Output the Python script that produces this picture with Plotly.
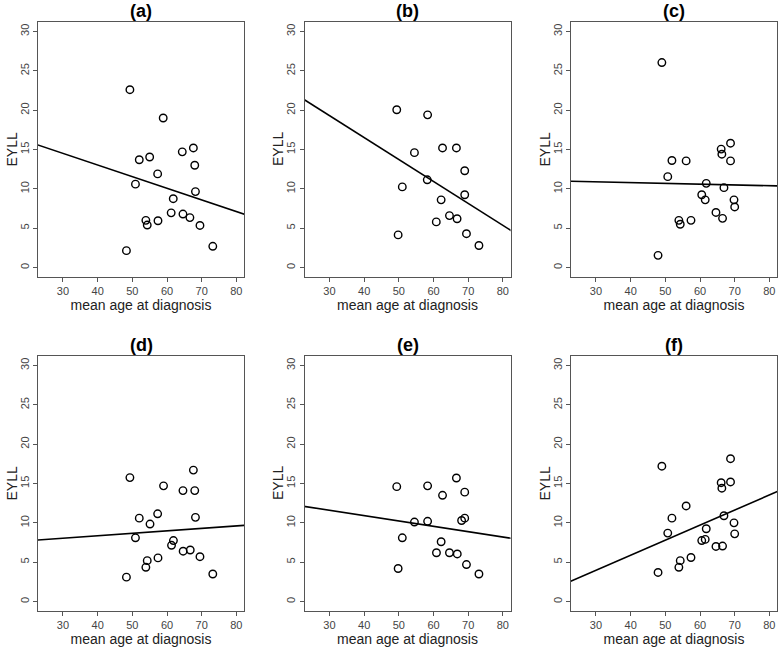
import plotly.graph_objects as go

# ---------------- data ----------------
panel_labels = ["(a)", "(b)", "(c)", "(d)", "(e)", "(f)"]

age_a = [49.3, 58.9, 52.0, 55.0, 57.3, 50.9, 64.4, 67.6, 68.0, 68.2,
         61.8, 61.2, 64.6, 66.6, 69.5, 53.9, 54.3, 57.4, 48.3, 73.2]
eyll_a = [22.6, 19.0, 13.7, 14.05, 11.9, 10.6, 14.7, 15.2, 13.0, 9.65,
          8.75, 6.95, 6.8, 6.35, 5.35, 6.0, 5.4, 5.95, 2.15, 2.7]

age_b = [49.4, 58.3, 54.5, 62.6, 66.6, 69.0, 58.2, 51.0, 69.0, 62.2,
         60.8, 64.6, 66.8, 69.5, 49.8, 73.1]
eyll_b = [20.05, 19.4, 14.6, 15.2, 15.2, 12.3, 11.15, 10.25, 9.25, 8.6,
          5.8, 6.6, 6.2, 4.3, 4.15, 2.8]

age_c = [49.0, 51.9, 56.0, 50.7, 66.1, 66.3, 68.8, 68.8, 61.8, 66.9,
         60.5, 61.5, 69.8, 70.0, 64.6, 66.5, 53.9, 54.3, 57.4, 47.9]
eyll_c = [26.05, 13.6, 13.55, 11.55, 15.05, 14.4, 15.8, 13.55, 10.7, 10.15,
          9.25, 8.6, 8.6, 7.7, 7.0, 6.25, 6.0, 5.5, 6.0, 1.55]

age_d = [49.3, 59.0, 67.6, 64.6, 68.0, 52.0, 57.3, 55.1, 68.2, 50.9,
         61.85, 61.3, 64.65, 66.7, 69.5, 54.3, 53.9, 57.4, 48.3, 73.2]
eyll_d = [15.75, 14.7, 16.7, 14.1, 14.1, 10.6, 11.15, 9.85, 10.7, 8.1,
          7.75, 7.15, 6.4, 6.55, 5.7, 5.2, 4.35, 5.55, 3.1, 3.5]

age_e = [49.4, 58.3, 66.6, 62.6, 69.0, 54.5, 58.3, 69.0, 68.1, 51.0,
         62.2, 60.85, 64.6, 66.85, 69.5, 49.8, 73.1]
eyll_e = [14.6, 14.7, 15.7, 13.5, 13.9, 10.1, 10.2, 10.6, 10.3, 8.1,
          7.6, 6.2, 6.2, 6.05, 4.7, 4.2, 3.5]

age_f = [49.0, 68.8, 66.1, 66.3, 68.8, 56.0, 51.9, 66.9, 69.8, 50.7,
         61.8, 60.5, 61.5, 70.0, 64.6, 66.5, 54.3, 53.9, 57.4, 47.9]
eyll_f = [17.2, 18.15, 15.1, 14.4, 15.2, 12.15, 10.6, 10.9, 10.0, 8.7,
          9.25, 7.75, 7.9, 8.6, 7.0, 7.05, 5.2, 4.35, 5.6, 3.7]

# fitted regression lines (intercept, slope)
fit_intercept = [18.95, 27.68, 11.19, 7.11, 13.64, -1.78]
fit_slope = [-0.148, -0.279, -0.0099, 0.0313, -0.068, 0.1915]

x_ticks = [30, 40, 50, 60, 70, 80]
y_ticks = [0, 5, 10, 15, 20, 25, 30]
x_range = [22.8, 82.2]
y_range = [-1.2, 31.2]

ages = [age_a, age_b, age_c, age_d, age_e, age_f]
eylls = [eyll_a, eyll_b, eyll_c, eyll_d, eyll_e, eyll_f]

# ---------------- layout geometry ----------------
W, H = 778, 647
col_px = [(38, 244), (304.5, 510.5), (571, 777)]
row_px = [(22, 277), (356, 611)]

FONT = "Liberation Sans, Arial, sans-serif"
fig = go.Figure()
annotations = []

for i in range(6):
    r, c = divmod(i, 3)
    ax = "" if i == 0 else str(i + 1)
    xa, ya = "x" + ax, "y" + ax
    x0, x1 = col_px[c]
    top, bot = row_px[r]
    xdom = [x0 / W, x1 / W]
    ydom = [1 - bot / H, 1 - top / H]

    fig.add_trace(go.Scatter(
        x=ages[i], y=eylls[i], mode="markers", xaxis=xa, yaxis=ya,
        marker=dict(symbol="circle-open", size=7.5, color="black",
                    line=dict(width=1.4, color="black")),
        showlegend=False, hoverinfo="x+y"))

    lx = [x_range[0] - 5, x_range[1] + 5]
    ly = [fit_intercept[i] + fit_slope[i] * v for v in lx]
    fig.add_trace(go.Scatter(
        x=lx, y=ly, mode="lines", xaxis=xa, yaxis=ya,
        line=dict(color="black", width=1.6), showlegend=False,
        hoverinfo="skip"))

    common = dict(showgrid=False, zeroline=False, showline=True, mirror=True,
                  linecolor="#555555", linewidth=1, ticks="outside",
                  ticklen=4, tickwidth=1, tickcolor="#555555",
                  automargin=False,
                  tickfont=dict(family=FONT, size=11, color="#444444"))
    fig.layout["xaxis" + ax] = dict(
        domain=xdom, range=x_range, tickvals=x_ticks, anchor=ya,
        title=dict(text="mean age at diagnosis", standoff=3,
                   font=dict(family=FONT, size=14, color="#222222")),
        **common)
    fig.layout["yaxis" + ax] = dict(
        domain=ydom, range=y_range, tickvals=y_ticks, anchor=xa,
        tickangle=-90, **common)

    # y-axis title "EYLL"
    annotations.append(dict(
        text="EYLL", xref="paper", yref="paper",
        x=(x0 - 27) / W, y=1 - (top + bot) / 2 / H, xanchor="center",
        yanchor="middle", textangle=-90, showarrow=False,
        font=dict(family=FONT, size=14, color="#222222")))

    # panel title
    annotations.append(dict(
        text="<b>%s</b>" % panel_labels[i], xref="paper", yref="paper",
        x=(x0 + x1) / 2 / W, y=1 - (top + 1) / H, xanchor="center",
        yanchor="bottom", showarrow=False,
        font=dict(family=FONT, size=18, color="black")))

fig.update_layout(
    template="none",
    width=W, height=H, margin=dict(l=0, r=0, t=0, b=0, autoexpand=False),
    paper_bgcolor="white", plot_bgcolor="white",
    annotations=annotations, showlegend=False)

fig.write_html(
    "out.html",
    config={"displayModeBar": False},
    post_script="document.body.style.margin='0';document.body.style.padding='0';",
)
